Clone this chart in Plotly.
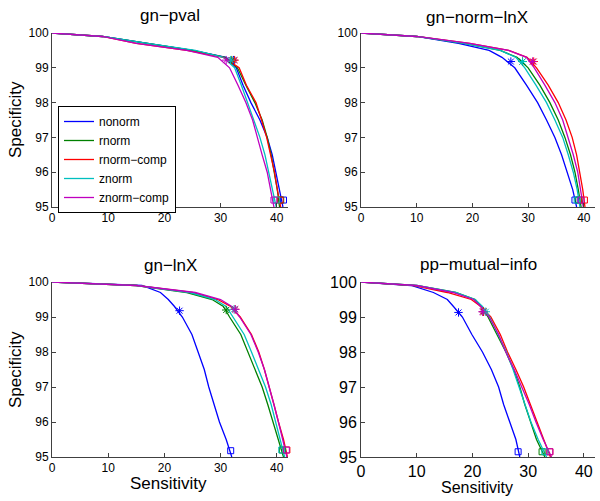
import plotly.graph_objects as go

# ---------------- data ----------------
SERIES = ["nonorm", "rnorm", "rnorm\u2212comp", "znorm", "znorm\u2212comp"]
COLORS = ["#0000FF", "#008000", "#FF0000", "#00BFBF", "#BF00BF"]

# specificity levels at which sensitivity was read
SPEC = [100, 99.9, 99.7, 99.5, 99.3, 99.0, 98.5, 98.0, 97.5, 97.0, 96.5, 96.0, 95.5, 95.0]

# panel 1: gn-pval
pval_nonorm = [0, 9, 17, 25, 31.0, 32.8, 34.0, 35.4, 37.0, 38.3, 39.2, 39.8, 40.4, 41.1]
pval_rnorm = [0, 9, 17, 25, 30.8, 33.0, 34.5, 36.1, 37.4, 38.3, 39.0, 39.6, 40.1, 40.5]
pval_rnorm_comp = [0, 9, 15, 24, 30.5, 33.3, 34.6, 36.3, 37.3, 38.2, 38.9, 39.6, 40.1, 40.7]
pval_znorm = [0, 9, 17, 25.5, 30.5, 32.5, 33.7, 34.8, 35.9, 37.0, 37.9, 38.6, 39.3, 39.9]
pval_znorm_comp = [0, 9, 15, 24, 29.5, 31.6, 33.1, 34.5, 35.7, 36.5, 37.4, 38.3, 38.9, 39.5]
pval_star_x = [32.3, 32.0, 32.5, 31.8, 31.0]
pval_star_y = [99.22, 99.22, 99.22, 99.22, 99.22]
pval_sq_x = [41.2, 40.7, 40.6, 40.0, 39.5]
pval_sq_y = [95.2, 95.2, 95.2, 95.2, 95.2]

# panel 2: gn-norm-lnX
nlnx_nonorm = [0, 10, 17.5, 23.0, 25.3, 27.6, 29.7, 31.7, 33.3, 34.8, 36.0, 37.0, 38.0, 38.7]
nlnx_rnorm = [0, 10, 18.5, 25, 28.0, 30.0, 32.1, 33.9, 35.4, 36.6, 37.6, 38.4, 39.0, 39.5]
nlnx_rnorm_comp = [0, 10, 19.5, 26.5, 29.8, 31.5, 33.6, 35.4, 36.8, 37.9, 38.7, 39.3, 39.8, 40.2]
nlnx_znorm = [0, 10, 18.5, 25, 27.8, 29.4, 31.4, 33.3, 34.8, 36.2, 37.2, 38.1, 38.8, 39.3]
nlnx_znorm_comp = [0, 10, 19.5, 26.5, 29.7, 31.1, 33.0, 34.8, 36.2, 37.2, 38.1, 38.9, 39.4, 39.9]
nlnx_star_x = [26.9, 29.0, 31.0, 29.0, 30.8]
nlnx_star_y = [99.18, 99.18, 99.18, 99.18, 99.18]
nlnx_sq_x = [38.4, 39.1, 40.1, 38.8, 39.5]
nlnx_sq_y = [95.2, 95.2, 95.2, 95.2, 95.2]

# panel 3: gn-lnX
lnx_nonorm = [0, 16, 19.3, 20.7, 21.8, 23.2, 24.9, 26.0, 27.1, 27.9, 28.8, 29.8, 31.0, 32.0]
lnx_rnorm = [0, 15, 24, 28.5, 30.5, 31.6, 33.6, 34.9, 36.2, 37.4, 38.4, 39.3, 40.2, 41.2]
lnx_rnorm_comp = [0, 15, 25, 29.5, 31.8, 33.5, 35.5, 36.8, 37.8, 38.7, 39.5, 40.3, 41.2, 41.9]
lnx_znorm = [0, 15, 24.5, 29, 31.0, 32.2, 34.2, 35.5, 36.8, 38.0, 39.0, 39.8, 40.6, 41.4]
lnx_znorm_comp = [0, 15, 25.5, 30, 32.0, 33.4, 35.4, 36.7, 37.8, 38.7, 39.5, 40.3, 41.1, 41.8]
lnx_star_x = [22.7, 31.0, 32.6, 32.4, 32.6]
lnx_star_y = [99.18, 99.2, 99.22, 99.22, 99.22]
lnx_sq_x = [31.8, 41.0, 41.8, 40.9, 41.7]
lnx_sq_y = [95.18, 95.2, 95.2, 95.2, 95.2]

# panel 4: pp-mutual-info
mi_nonorm = [0, 9, 13, 15.5, 16.6, 18.2, 19.9, 21.8, 23.4, 24.7, 25.6, 26.7, 27.8, 28.5]
mi_rnorm = [0, 10, 17, 20.5, 21.5, 22.8, 24.4, 26.0, 27.4, 28.5, 29.4, 30.4, 31.5, 33.0]
mi_rnorm_comp = [0, 9.5, 15.5, 19.8, 21.5, 23.3, 25.0, 26.3, 27.8, 29.2, 30.4, 31.6, 32.8, 34.0]
mi_znorm = [0, 10, 17, 20.5, 21.8, 23.1, 24.6, 26.1, 27.3, 28.4, 29.4, 30.5, 31.8, 33.3]
mi_znorm_comp = [0, 10, 16.5, 20.2, 21.5, 23.0, 24.7, 26.0, 27.5, 28.9, 30.2, 31.4, 32.7, 34.2]
mi_star_x = [17.5, 22.0, 22.0, 22.4, 21.8]
mi_star_y = [99.13, 99.15, 99.15, 99.15, 99.15]
mi_sq_x = [28.2, 32.5, 33.9, 33.0, 33.9]
mi_sq_y = [95.15, 95.15, 95.15, 95.15, 95.15]

TITLES = ["gn\u2212pval", "gn\u2212norm\u2212lnX", "gn\u2212lnX", "pp\u2212mutual\u2212info"]
X_TICKS = [0, 10, 20, 30, 40]
Y_TICKS = [95, 96, 97, 98, 99, 100]

PANELS = [
    (TITLES[0], [pval_nonorm, pval_rnorm, pval_rnorm_comp, pval_znorm, pval_znorm_comp],
     pval_star_x, pval_star_y, pval_sq_x, pval_sq_y),
    (TITLES[1], [nlnx_nonorm, nlnx_rnorm, nlnx_rnorm_comp, nlnx_znorm, nlnx_znorm_comp],
     nlnx_star_x, nlnx_star_y, nlnx_sq_x, nlnx_sq_y),
    (TITLES[2], [lnx_nonorm, lnx_rnorm, lnx_rnorm_comp, lnx_znorm, lnx_znorm_comp],
     lnx_star_x, lnx_star_y, lnx_sq_x, lnx_sq_y),
    (TITLES[3], [mi_nonorm, mi_rnorm, mi_rnorm_comp, mi_znorm, mi_znorm_comp],
     mi_star_x, mi_star_y, mi_sq_x, mi_sq_y),
]

# ---------------- layout geometry ----------------
W, H = 600, 501
FONT = "Liberation Sans, Arial, Helvetica, sans-serif"
XDOM = [[52 / W, 288 / W], [361 / W, 595 / W]]
YDOM = [[1 - 207 / H, 1 - 33 / H], [1 - 457 / H, 1 - 282 / H]]

fig = go.Figure()

for p, (title, curves, sx, sy, qx, qy) in enumerate(PANELS):
    ax = "" if p == 0 else str(p + 1)
    xa, ya = "x" + ax, "y" + ax
    for i, sens in enumerate(curves):
        fig.add_trace(go.Scatter(
            x=sens, y=SPEC, mode="lines", xaxis=xa, yaxis=ya,
            line=dict(color=COLORS[i], width=1.3),
            name=SERIES[i], showlegend=(p == 0), legendgroup=SERIES[i]))
    for i in range(len(curves)):
        fig.add_trace(go.Scatter(
            x=[sx[i]], y=[sy[i]], mode="markers", xaxis=xa, yaxis=ya,
            marker=dict(symbol="asterisk-open", size=7, color=COLORS[i],
                        line=dict(color=COLORS[i], width=1)),
            showlegend=False, hoverinfo="skip", cliponaxis=False))
        fig.add_trace(go.Scatter(
            x=[qx[i]], y=[qy[i]], mode="markers", xaxis=xa, yaxis=ya,
            marker=dict(symbol="square-open", size=6, color=COLORS[i],
                        line=dict(color=COLORS[i], width=1)),
            showlegend=False, hoverinfo="skip", cliponaxis=False))

layout = dict(
    width=W, height=H, autosize=False,
    margin=dict(l=0, r=0, t=0, b=0, pad=0, autoexpand=False),
    paper_bgcolor="white", plot_bgcolor="white",
    font=dict(family=FONT, color="black"),
    legend=dict(x=58 / W, y=1 - 106 / H, xanchor="left", yanchor="top",
                bordercolor="black", borderwidth=1, bgcolor="white",
                font=dict(size=12, family=FONT), tracegroupgap=0),
)
for p in range(4):
    ax = "" if p == 0 else str(p + 1)
    r, c = divmod(p, 2)
    tsize = 16 if p == 3 else 12
    layout["xaxis" + ax] = dict(
        domain=XDOM[c], anchor="y" + ax, range=[0, 42], tickvals=X_TICKS,
        showgrid=False, zeroline=False, showline=True, linecolor="#404040",
        linewidth=1, ticks="inside", ticklen=4, tickcolor="#404040",
        automargin=False, tickfont=dict(size=tsize, family=FONT))
    layout["yaxis" + ax] = dict(
        domain=YDOM[r], anchor="x" + ax, range=[95, 100], tickvals=Y_TICKS,
        showgrid=False, zeroline=False, showline=True, linecolor="#404040",
        linewidth=1, ticks="inside", ticklen=4, tickcolor="#404040",
        automargin=False, tickfont=dict(size=tsize, family=FONT))

annotations = []
title_pos = [(170, 15), (477, 17), (170, 265), (478, 264)]
for t, (px, py) in zip(TITLES, title_pos):
    annotations.append(dict(text=t, x=px / W, y=1 - py / H, xref="paper", yref="paper",
                            showarrow=False, font=dict(size=17, family=FONT),
                            xanchor="center", yanchor="middle"))
for py in (120, 370):
    annotations.append(dict(text="Specificity", x=15 / W, y=1 - py / H, xref="paper",
                            yref="paper", showarrow=False, textangle=-90,
                            font=dict(size=17, family=FONT),
                            xanchor="center", yanchor="middle"))
for px, py, fs in ((168, 483, 17), (477, 487, 16)):
    annotations.append(dict(text="Sensitivity", x=px / W, y=1 - py / H, xref="paper",
                            yref="paper", showarrow=False,
                            font=dict(size=fs, family=FONT),
                            xanchor="center", yanchor="middle"))
layout["annotations"] = annotations
fig.update_layout(**layout)

fig.write_html("out.html", config={"displayModeBar": False},
               post_script="document.body.style.margin='0';document.body.style.overflow='hidden';")
